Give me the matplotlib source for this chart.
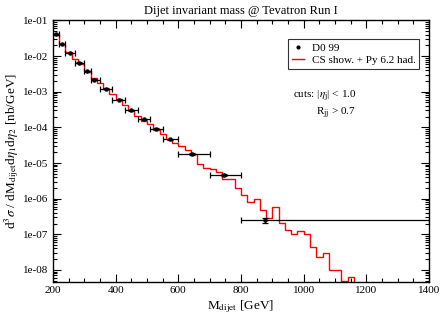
import matplotlib.pyplot as plt
from matplotlib.lines import Line2D
from matplotlib.ticker import FixedLocator, LogLocator, NullFormatter, MultipleLocator
import numpy as np

plt.rcParams['font.family'] = ['Liberation Serif', 'DejaVu Serif']
plt.rcParams['mathtext.fontset'] = 'stix'

# D0 99 data points
d0_mass = [210, 229, 254, 284, 309, 332, 369, 410, 450, 490, 530, 575, 645, 745, 875]
d0_lo = [200, 220, 240, 270, 300, 320, 350, 390, 430, 470, 510, 550, 600, 700, 800]
d0_hi = [220, 240, 270, 300, 320, 350, 390, 430, 470, 510, 550, 600, 700, 800, 1400]
d0_xs = [4.1e-2, 2.19e-2, 1.22e-2, 6.5e-3, 3.74e-3, 2.17e-3, 1.21e-3, 5.96e-4, 3.0e-4,
         1.71e-4, 9.1e-5, 4.63e-5, 1.78e-5, 4.72e-6, 2.44e-7]
d0_err = [1.2e-3, 6e-4, 3.5e-4, 2e-4, 1.2e-4, 7e-5, 4e-5, 2e-5, 1e-5,
          6e-6, 3.5e-6, 2e-6, 8e-7, 3e-7, 3.5e-8]

# CS shower + Pythia 6.2 hadronisation histogram (20 GeV bins)
mc_edges = list(range(200, 1200, 20))
mc_xs = [4.09e-2, 2.23e-2, 1.30e-2, 8.30e-3, 5.89e-3, 3.81e-3, 2.47e-3, 1.79e-3,
         1.19e-3, 8.79e-4, 6.12e-4, 4.23e-4, 3.06e-4, 2.08e-4, 1.50e-4, 1.21e-4,
         8.39e-5, 6.48e-5, 4.60e-5, 3.69e-5, 3.04e-5, 2.30e-5, 1.78e-5, 9.31e-6,
         7.33e-6, 6.74e-6, 5.55e-6, 3.46e-6, 3.46e-6, 2.04e-6, 1.25e-6, 7.82e-7,
         9.50e-7, 4.75e-7, 2.89e-7, 5.66e-7, 2.01e-7, 1.36e-7, 1.03e-7, 1.20e-7,
         1.05e-7, 4.42e-8, 2.27e-8, 3.01e-8, 9.8e-9, 9.8e-9, 4.75e-9, 6.2e-9,
         3.0e-9]

fig = plt.figure(figsize=(4.41, 3.15), dpi=100)
ax = fig.add_axes([0.120, 0.106, 0.853, 0.829])

ax.stairs(mc_xs, mc_edges, color='#ff0000', linewidth=1.0, baseline=None)

xm = np.array(d0_mass)
xerr = [xm - np.array(d0_lo), np.array(d0_hi) - xm]
ax.errorbar(d0_mass, d0_xs, xerr=xerr, yerr=d0_err, fmt='o', color='black',
            markersize=2.2, elinewidth=0.9, capsize=2, capthick=0.9)

ax.set_yscale('log')
ax.set_xlim(200, 1400)
ax.set_ylim(4.7e-9, 1e-1)
ax.xaxis.set_major_locator(MultipleLocator(200))
ax.xaxis.set_minor_locator(MultipleLocator(50))
yt = [10.0 ** k for k in range(-8, 0)]
ax.yaxis.set_major_locator(FixedLocator(yt))
ax.set_yticklabels(['1e-%02d' % k for k in range(8, 0, -1)])
ax.yaxis.set_minor_locator(LogLocator(base=10, subs=np.arange(2, 10)))
ax.yaxis.set_minor_formatter(NullFormatter())
ax.tick_params(which='both', direction='in', top=True, right=True, labelsize=8, width=0.8)
ax.tick_params(which='major', length=6)
ax.tick_params(which='minor', length=3)
for s in ax.spines.values():
    s.set_linewidth(1.0)

ax.set_title('Dijet invariant mass @ Tevatron Run I', fontsize=9, pad=5)
ax.set_xlabel(r'M$_{\rm dijet}$ [GeV]', fontsize=9.5, labelpad=2)
ax.set_ylabel(r'd$^3\sigma$ / dM$_{\rm dijet}$d$\eta_1$d$\eta_2$ [nb/GeV]', fontsize=9.5)
ax.yaxis.set_label_coords(-0.086, 0.5)

handles = [Line2D([], [], color='black', marker='o', markersize=2, linestyle='none'),
           Line2D([], [], color='#ff0000', linewidth=1.0)]
leg = ax.legend(handles, ['D0 99', 'CS show. + Py 6.2 had.'], loc='upper right',
                bbox_to_anchor=(0.974, 0.928), borderaxespad=0, fontsize=8, frameon=True,
                fancybox=False, handlelength=1.1, handletextpad=0.7, borderpad=0.35,
                labelspacing=0.2)
leg.get_frame().set_edgecolor('black')
leg.get_frame().set_linewidth(0.8)

ax.text(0.637, 0.71, r'cuts: |$\eta_{\rm j}$| < 1.0', transform=ax.transAxes, fontsize=8, va='center')
ax.text(0.700, 0.645, r'R$_{\rm jj}$ > 0.7', transform=ax.transAxes, fontsize=8, va='center')

fig.savefig('out.png', dpi=100)
